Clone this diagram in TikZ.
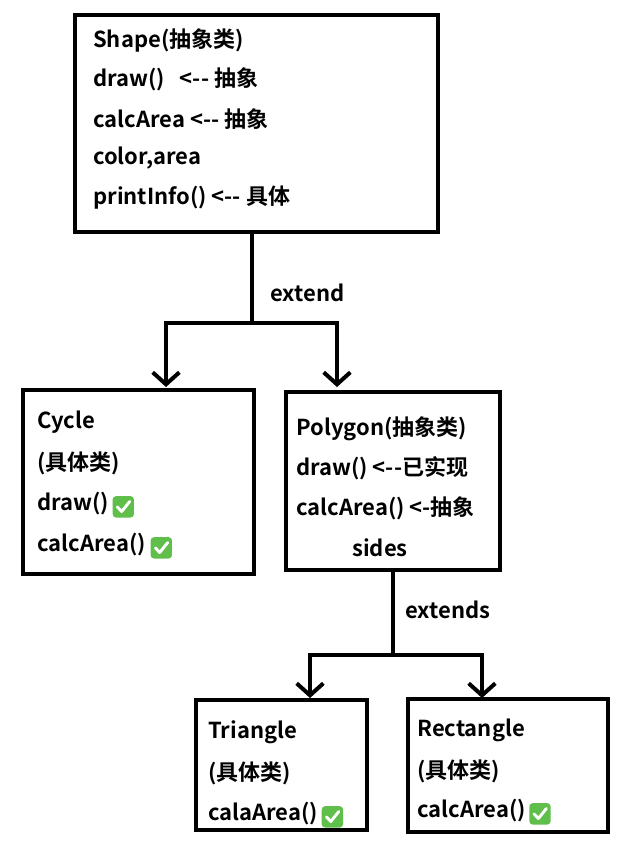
\documentclass[tikz,border=0pt]{standalone}
\usepackage{fontspec}
\setmainfont{Noto Sans CJK SC}[BoldFont={* Bold}]
\usetikzlibrary{arrows.meta}
\definecolor{chkgreen}{HTML}{5FBF4A}
\newcommand\chk{\tikz[baseline=-3pt,x=1pt,y=1pt]{\fill[chkgreen,rounded corners=2.5pt] (-8,-8) rectangle (8,8);
\draw[white,line width=2.2pt,line cap=round,line join=round] (-4.5,0) -- (-1.2,-3.5) -- (4.8,4);}}
\begin{document}
\begin{tikzpicture}[x=0.75pt,y=-0.75pt,
  box/.style={draw,line width=3pt},
  t/.style={anchor=west,font=\bfseries\fontsize{16.5}{19}\selectfont,inner sep=0pt},
  conn/.style={line width=3pt},
  arr/.style={line width=3pt,-{Straight Barb[length=9pt,width=20pt,line width=3pt]}}]
\useasboundingbox (0,0) rectangle (631,858);
\draw[box] (75,15) rectangle (438,232);
\draw[box] (23,390) rectangle (254,574);
\draw[box] (286,392) rectangle (500,570);
\draw[box] (196,700) rectangle (367,830);
\draw[box] (408,699) rectangle (608,832);
\node[t] (s1) at (93,40) {Shape(抽象类)};
\node[t] (s2) at (93,79) {draw()\ \ \ <-{}- 抽象};
\node[t] (s3) at (93,119) {calcArea <-{}- 抽象};
\node[t] (s4) at (93,158) {color,area};
\node[t] (s5) at (93,198) {printInfo() <-{}- 具体};
\node[t] (c1) at (37,422) {Cycle};
\node[t] (c2) at (37,463) {(具体类)};
\node[t] (c3) at (37,505) {draw()\,\chk};
\node[t] (c4) at (37,546) {calcArea() \chk};
\node[t] (p1) at (296,429) {Polygon(抽象类)};
\node[t] (p2) at (296,468) {draw() <-{}-已实现};
\node[t] (p3) at (296,508) {calcArea() <-抽象};
\node[t] (p4) at (352,548) {sides};
\node[t] (r1) at (208,732) {Triangle};
\node[t] (r2) at (208,773) {(具体类)};
\node[t] (r3) at (208,815) {calaArea()\,\chk};
\node[t] (q1) at (417,730) {Rectangle};
\node[t] (q2) at (417,771) {(具体类)};
\node[t] (q3) at (417,812) {calcArea()\,\chk};
\node[t] (e1) at (270,293) {extend};
\node[t] (e2) at (405,610) {extends};
\coordinate (a0) at (252,232); \coordinate (a1) at (252,323);
\draw[conn] (a0) -- (a1);
\draw[arr] (253,323) -| (166,387);
\draw[arr] (251,323) -| (337,387);
\coordinate (b0) at (393,570); \coordinate (b1) at (393,655);
\draw[conn] (b0) -- (b1);
\draw[arr] (394,655) -| (310,698);
\draw[arr] (392,655) -| (482,698);
\end{tikzpicture}
\end{document}
